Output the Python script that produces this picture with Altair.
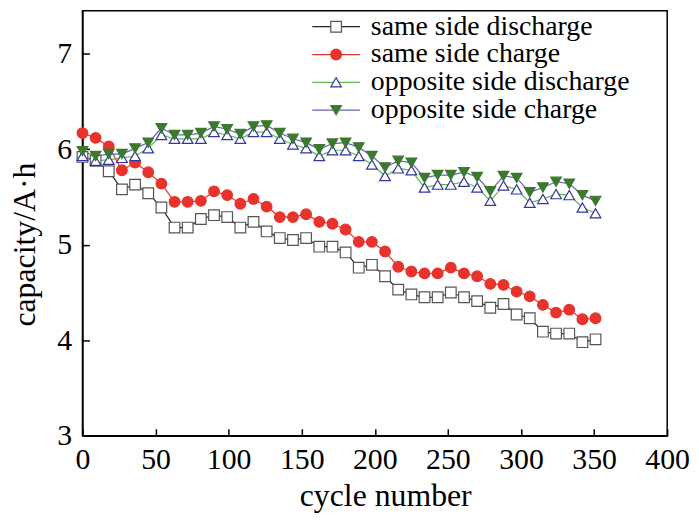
import altair as alt
import pandas as pd

FONT = "Liberation Serif"

cycles = [0, 9, 18, 27, 36, 45, 54, 63, 72, 81, 90, 99, 108, 117, 126, 135, 144, 153, 162, 171,
          180, 189, 198, 207, 216, 225, 234, 243, 252, 261, 270, 279, 288, 297, 306, 315, 324, 333, 342, 351]

same_discharge = [5.92, 5.88, 5.77, 5.58, 5.63, 5.54, 5.39, 5.18, 5.18, 5.27, 5.31, 5.29, 5.18, 5.24, 5.14,
                  5.07, 5.05, 5.07, 4.98, 4.98, 4.92, 4.76, 4.79, 4.67, 4.53, 4.48, 4.45, 4.45, 4.50, 4.45,
                  4.41, 4.34, 4.38, 4.27, 4.23, 4.09, 4.07, 4.07, 3.98, 4.01]
same_charge = [6.17, 6.12, 6.03, 5.78, 5.86, 5.76, 5.64, 5.45, 5.45, 5.46, 5.56, 5.52, 5.43, 5.48, 5.40,
               5.29, 5.29, 5.32, 5.24, 5.22, 5.16, 5.03, 5.03, 4.93, 4.77, 4.72, 4.70, 4.70, 4.76, 4.70,
               4.67, 4.59, 4.58, 4.51, 4.46, 4.37, 4.29, 4.32, 4.22, 4.23]
opp_discharge = [5.93, 5.88, 5.89, 5.91, 5.93, 6.01, 6.15, 6.11, 6.11, 6.11, 6.18, 6.15, 6.11, 6.18, 6.18,
                 6.11, 6.05, 6.01, 5.93, 5.99, 5.99, 5.93, 5.84, 5.72, 5.80, 5.78, 5.60, 5.63, 5.63, 5.66,
                 5.60, 5.46, 5.62, 5.58, 5.44, 5.48, 5.53, 5.52, 5.39, 5.33]
opp_charge = [5.98, 5.93, 5.95, 5.95, 6.01, 6.07, 6.22, 6.15, 6.15, 6.17, 6.24, 6.21, 6.16, 6.24, 6.25,
              6.17, 6.11, 6.07, 6.00, 6.06, 6.07, 6.02, 5.93, 5.81, 5.88, 5.86, 5.70, 5.73, 5.73, 5.76,
              5.71, 5.56, 5.72, 5.70, 5.55, 5.60, 5.66, 5.64, 5.52, 5.46]

series_names = ["same side discharge", "same side charge", "opposite side discharge", "opposite side charge"]
marker_keys = ["m1", "m2", "m3", "m4"]
series_values = [same_discharge, same_charge, opp_discharge, opp_charge]

line_colors = ["#222222", "#e8322c", "#5dbb4a", "#6262b8"]
marker_shapes = ["square", "circle", "triangle-up", "triangle-down"]
marker_fill = ["#ffffff", "#e8322c", "#ffffff", "#3b7a2c"]
marker_stroke = ["#555555", "#e8322c", "#3535a0", "#3b7a2c"]

x_ticks = [0, 50, 100, 150, 200, 250, 300, 350, 400]
y_ticks = [3, 4, 5, 6, 7]

rows = []
for name, key, vals in zip(series_names, marker_keys, series_values):
    for c, v in zip(cycles, vals):
        rows.append({"series": name, "marker": key, "cycle": c, "cap": v})
df = pd.DataFrame(rows)

xscale = alt.Scale(domain=[0, 400], nice=False, zero=False)
yscale = alt.Scale(domain=[3, 7.45], nice=False, zero=False)

leg_common = dict(orient="none", legendX=241.5, legendY=2, title=None, padding=0,
                  labelFont=FONT, labelFontSize=28, labelLimit=600, rowPadding=0)

lines = alt.Chart(df).mark_line(strokeWidth=1.2).encode(
    x=alt.X("cycle:Q", scale=xscale,
            axis=alt.Axis(values=x_ticks, ticks=False, labelPadding=33, labelBaseline="alphabetic",
                          labelFlush=False, title="cycle number", titleX=305, titleY=70,
                          titleAlign="center", titleBaseline="alphabetic", titleAnchor="start")),
    y=alt.Y("cap:Q", scale=yscale,
            axis=alt.Axis(values=y_ticks, ticks=False, labelPadding=11, labelBaseline="middle",
                          labelFlush=False, title="capacity/A·h", titleX=-48, titleY=235, titleAngle=-90,
                          titleAlign="center", titleBaseline="alphabetic", titleAnchor="start")),
    color=alt.Color("series:N", scale=alt.Scale(domain=series_names, range=line_colors),
                    legend=alt.Legend(symbolType="M-4,0H4", symbolSize=144, symbolStrokeWidth=1.3,
                                      labelOffset=21, labelColor="black", **leg_common)),
)

leg2 = alt.Legend(symbolSize=115, symbolStrokeWidth=1.2, labelExpr="' '", labelOffset=21, **leg_common)

points = alt.Chart(df).mark_point(size=115, opacity=1, strokeWidth=1.2).encode(
    x=alt.X("cycle:Q", scale=xscale,
            axis=alt.Axis(orient="bottom", offset=-7, tickSize=7, values=x_ticks, labels=False,
                          domain=False, title=None)),
    y=alt.Y("cap:Q", scale=yscale,
            axis=alt.Axis(orient="left", offset=-7, tickSize=7, values=y_ticks, labels=False,
                          domain=False, title=None)),
    shape=alt.Shape("marker:N", scale=alt.Scale(domain=marker_keys, range=marker_shapes), legend=leg2),
    fill=alt.Fill("marker:N", scale=alt.Scale(domain=marker_keys, range=marker_fill), legend=leg2),
    stroke=alt.Stroke("marker:N", scale=alt.Scale(domain=marker_keys, range=marker_stroke), legend=leg2),
)

chart = alt.layer(lines, points).resolve_axis(x="independent", y="independent").properties(
    width=589, height=428,
    autosize=alt.AutoSizeParams(type="none"),
    padding={"left": 75, "top": 1, "right": 24, "bottom": 80},
).configure_view(
    stroke="black", strokeWidth=1.5
).configure_axis(
    grid=False, domainColor="black", domainWidth=1.5, tickColor="black", tickWidth=1.5,
    labelColor="black", labelFont=FONT, labelFontSize=30,
    titleColor="black", titleFont=FONT, titleFontSize=32, titleFontWeight="normal",
)

chart.save("out.html", embed_options={"renderer": "svg", "actions": False})
